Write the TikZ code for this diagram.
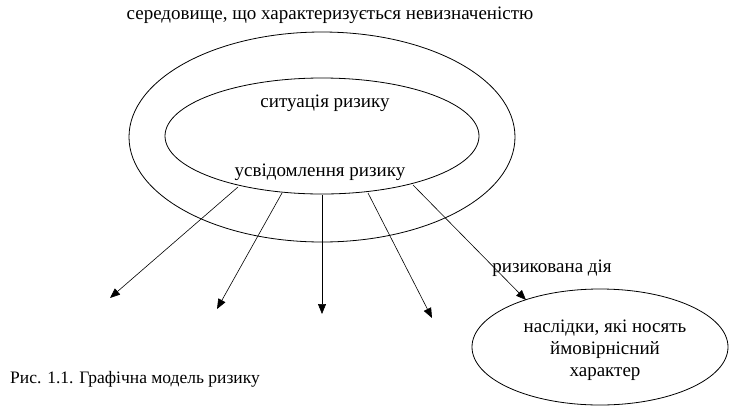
\documentclass[tikz,border=0pt]{standalone}
\usepackage{fontspec}
\setmainfont{Liberation Serif}
\usetikzlibrary{arrows.meta,shapes.geometric}
\tikzset{
  ring/.style={draw, line width=0.8pt},
  lbl/.style={font=\fontsize{19}{22}\selectfont, inner sep=0pt},
  arr/.style={draw, line width=0.6pt, -{Triangle[length=10pt,width=8pt]}}
}
\begin{document}
\begin{tikzpicture}[x=1pt,y=-1pt]
\useasboundingbox (0,0) rectangle (729,416);
\draw[ring] (322,137) ellipse [x radius=193, y radius=105];
\draw[ring] (322,136) ellipse [x radius=157, y radius=58];
\draw[ring] (600,347) ellipse [x radius=128, y radius=58];
\node[lbl] (top) at (330,15) {середовище, що характеризується невизначеністю};
\node[lbl] (sit) at (325,103) {ситуація ризику};
\node[lbl] (usv) at (320,172) {усвідомлення ризику};
\node[lbl] (act) at (552,268) {ризикована дія};
\node[lbl, align=center] (cons) at (605,350) {наслідки, які носять\\ймовірнісний\\характер};
\node[lbl, anchor=west, font=\fontsize{17.5}{20}\selectfont] (cap) at (10,379) {Рис. 1.1. Графічна модель ризику};
\coordinate (s1) at (238,187); \coordinate (e1) at (110,298);
\coordinate (s2) at (282,193); \coordinate (e2) at (217,309);
\coordinate (s3) at (322,195); \coordinate (e3) at (322,314);
\coordinate (s4) at (368,193); \coordinate (e4) at (432,318);
\coordinate (s5) at (413,185); \coordinate (e5) at (526,300);
\draw[arr] (s1) -- (e1);
\draw[arr] (s2) -- (e2);
\draw[arr] (s3) -- (e3);
\draw[arr] (s4) -- (e4);
\draw[arr] (s5) -- (e5);
\end{tikzpicture}
\end{document}
